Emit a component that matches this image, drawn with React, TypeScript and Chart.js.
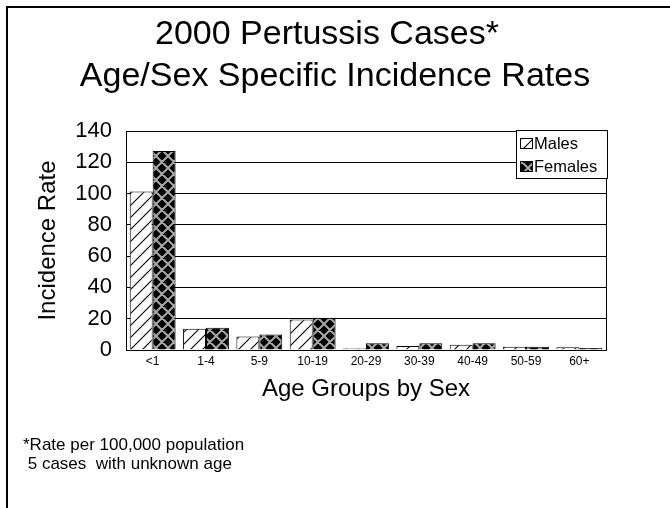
import React, { useEffect, useRef } from "react";
import { Chart, registerables } from "chart.js";

Chart.register(...registerables);

const categories = ["<1", "1-4", "5-9", "10-19", "20-29", "30-39", "40-49", "50-59", "60+"];
const males = [101.4, 13.6, 8.6, 19.5, 1.0, 2.6, 3.3, 2.0, 1.8];
const females = [127.2, 14.2, 9.9, 20.6, 4.3, 4.3, 4.3, 2.0, 1.2];
const yTicks = [0, 20, 40, 60, 80, 100, 120, 140];
const seriesNames = ["Males", "Females"];
const titleLines = ["2000 Pertussis Cases*", "Age/Sex Specific Incidence Rates"];
const footnotes = ["*Rate per 100,000 population", " 5 cases  with unknown age"];
const xTitle = "Age Groups by Sex";
const yTitle = "Incidence Rate";

const FONT = "'Liberation Sans', Arial, Helvetica, sans-serif";

function makeMalePattern(ctx: CanvasRenderingContext2D) {
  const c = document.createElement("canvas");
  c.width = 12;
  c.height = 12;
  const g = c.getContext("2d")!;
  g.fillStyle = "#fff";
  g.fillRect(0, 0, 12, 12);
  g.strokeStyle = "#000";
  g.lineWidth = 1.1;
  g.beginPath();
  for (const dx of [-12, 0, 12]) {
    g.moveTo(dx - 1, 13);
    g.lineTo(dx + 13, -1);
  }
  g.stroke();
  return ctx.createPattern(c, "repeat")!;
}

function makeFemalePattern(ctx: CanvasRenderingContext2D) {
  const c = document.createElement("canvas");
  c.width = 12;
  c.height = 12;
  const g = c.getContext("2d")!;
  g.fillStyle = "#000";
  g.fillRect(0, 0, 12, 12);
  g.strokeStyle = "#a8a8a8";
  g.lineWidth = 2;
  g.beginPath();
  for (const dx of [-12, 0, 12]) {
    g.moveTo(dx, 0);
    g.lineTo(dx + 12, 12);
    g.moveTo(dx + 12, 0);
    g.lineTo(dx, 12);
  }
  g.stroke();
  return ctx.createPattern(c, "repeat")!;
}

export default function App() {
  const ref = useRef<HTMLCanvasElement>(null);

  useEffect(() => {
    const canvas = ref.current!;
    const ctx = canvas.getContext("2d")!;
    const malePat = makeMalePattern(ctx);
    const femalePat = makeFemalePattern(ctx);

    const decor = {
      id: "decor",
      afterDraw(chart: any) {
        const c = chart.ctx as CanvasRenderingContext2D;
        const a = chart.chartArea;
        c.save();
        // plot frame
        c.strokeStyle = "#000";
        c.lineWidth = 1;
        c.strokeRect(Math.round(a.left) + 0.5, Math.round(a.top) + 0.5, Math.round(a.right - a.left), Math.round(a.bottom - a.top));
        // page frame (top + left)
        c.fillStyle = "#000";
        c.fillRect(6, 6, 664, 2);
        c.fillRect(6, 6, 2, 502);
        // titles
        c.fillStyle = "#000";
        c.textAlign = "center";
        c.textBaseline = "middle";
        c.font = `34px ${FONT}`;
        c.fillText(titleLines[0], 327, 35);
        c.fillText(titleLines[1], 335, 77);
        // footnotes
        c.textAlign = "left";
        c.font = `17px ${FONT}`;
        c.fillText(footnotes[0], 23, 445);
        c.fillText(footnotes[1], 23, 464);
        // legend
        const lx = 516, ly = 130, lw = 91, lh = 48;
        c.fillStyle = "#fff";
        c.fillRect(lx, ly, lw, lh);
        c.strokeStyle = "#000";
        c.lineWidth = 1;
        c.strokeRect(lx + 0.5, ly + 0.5, lw, lh);
        const pats = [malePat, femalePat];
        const rows = [143, 166];
        c.font = `16.5px ${FONT}`;
        c.textBaseline = "middle";
        for (let i = 0; i < 2; i++) {
          const sy = rows[i] - 5;
          c.fillStyle = pats[i];
          c.fillRect(520, sy, 12, 10);
          c.strokeStyle = "#000";
          c.strokeRect(520.5, sy + 0.5, 12, 10);
          c.fillStyle = "#000";
          c.fillText(seriesNames[i], 534, rows[i] + 1);
        }
        c.restore();
      },
    };

    const chart = new Chart(canvas, {
      type: "bar",
      data: {
        labels: categories,
        datasets: [
          {
            label: seriesNames[0],
            data: males,
            backgroundColor: malePat as any,
            borderColor: "#000",
            borderWidth: 1,
            categoryPercentage: 0.86,
            barPercentage: 1,
          },
          {
            label: seriesNames[1],
            data: females,
            backgroundColor: femalePat as any,
            borderColor: "#000",
            borderWidth: 1,
            categoryPercentage: 0.86,
            barPercentage: 1,
          },
        ],
      },
      options: {
        responsive: false,
        animation: false,
        devicePixelRatio: 1,
        layout: { padding: { left: 0, right: 64, top: 131, bottom: 0 } },
        plugins: {
          legend: { display: false },
          title: { display: false },
          tooltip: { enabled: false },
        },
        scales: {
          x: {
            grid: { display: false, drawTicks: false },
            border: { display: true, color: "#000", width: 1 },
            ticks: {
              color: "#000",
              font: { family: FONT, size: 12 },
              padding: 4,
              maxRotation: 0,
              autoSkip: false,
            },
            title: {
              display: true,
              text: xTitle,
              color: "#000",
              font: { family: FONT, size: 24 },
              padding: { top: 0, bottom: 104 },
            },
            afterFit: (s: any) => {
              s.height = 158;
            },
          },
          y: {
            min: 0,
            max: 140,
            afterBuildTicks: (s: any) => {
              s.ticks = yTicks.map((v) => ({ value: v }));
            },
            grid: { color: "#000", lineWidth: 1, drawTicks: false },
            border: { display: true, color: "#000", width: 1 },
            ticks: {
              color: "#000",
              font: { family: FONT, size: 22 },
              padding: 14,
            },
            title: {
              display: true,
              text: yTitle,
              color: "#000",
              font: { family: FONT, size: 24 },
              padding: { top: 34, bottom: 0 },
            },
            afterFit: (s: any) => {
              s.width = 126;
            },
          },
        },
      },
      plugins: [decor],
    });
    return () => chart.destroy();
  }, []);

  return (
    <div style={{ position: "absolute", left: 0, top: 0, width: 670, height: 508, background: "#fff" }}>
      <canvas ref={ref} width={670} height={508} style={{ display: "block" }} />
    </div>
  );
}
